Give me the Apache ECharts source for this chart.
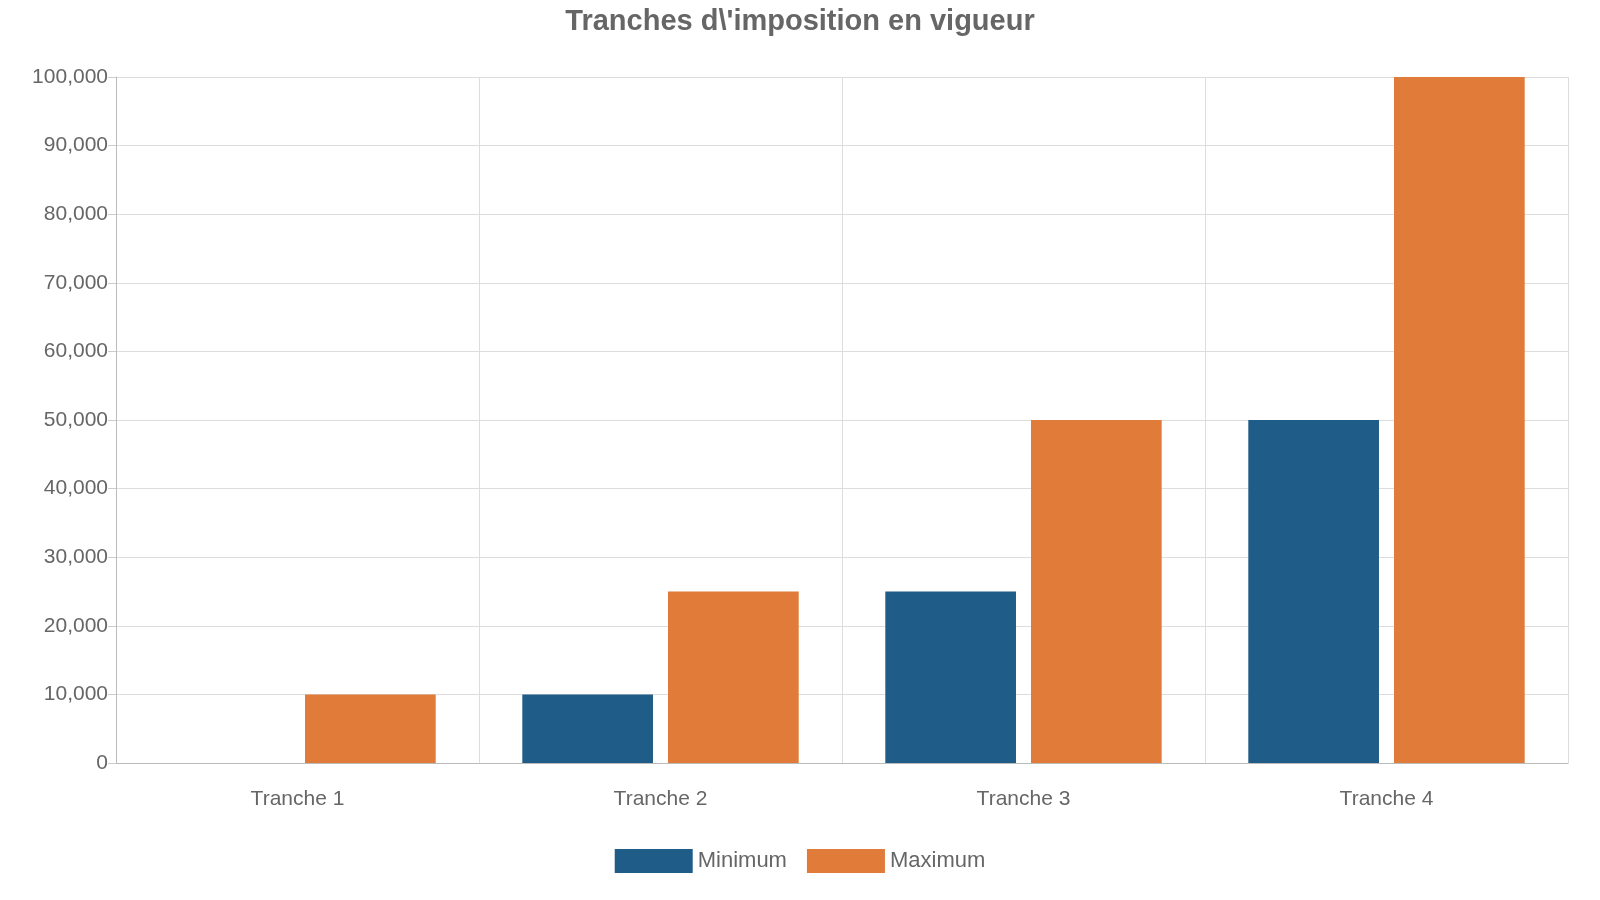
<!DOCTYPE html>
<html><head><meta charset="utf-8">
<script src="https://cdn.jsdelivr.net/npm/echarts@6/dist/echarts.min.js"></script>
<style>html,body{margin:0;padding:0;background:#fff}#c{width:1600px;height:900px}</style>
</head><body><div id="c"></div>
<script>
const categories = ['Tranche 1','Tranche 2','Tranche 3','Tranche 4'];
const minimum = [0, 10000, 25000, 50000];
const maximum = [10000, 25000, 50000, 100000];
const chart = echarts.init(document.getElementById('c'));
const F = 'Liberation Sans, Arial, sans-serif';
chart.setOption({
  animation:false,
  title:{text:"Tranches d\\'imposition en vigueur",left:'center',top:2,textStyle:{fontFamily:F,fontSize:29,fontWeight:'bold',color:'#666'}},
  legend:{bottom:22,itemWidth:78,itemHeight:24,itemGap:20,icon:'rect',textStyle:{fontFamily:F,fontSize:22,color:'#666'},data:['Minimum','Maximum']},
  grid:{left:116,right:32,top:77,bottom:137},
  xAxis:{type:'category',data:categories,
    axisLine:{lineStyle:{color:'#bbb'}},axisTick:{length:14,lineStyle:{color:'#ccc'}},
    splitLine:{show:true,lineStyle:{color:'#ddd'}},
    axisLabel:{fontFamily:F,fontSize:21,color:'#666',margin:26}},
  yAxis:{type:'value',min:0,max:100000,interval:10000,
    axisLine:{show:true,lineStyle:{color:'#bbb'}},axisTick:{show:true,length:8,lineStyle:{color:'#ccc'}},
    splitLine:{lineStyle:{color:'#ddd'}},
    axisLabel:{fontFamily:F,fontSize:21,color:'#666',formatter:v=>v.toLocaleString('en-US')}},
  series:[
    {name:'Minimum',type:'bar',data:minimum,barWidth:'36%',barGap:'11.5%',itemStyle:{color:'#1f5c87'}},
    {name:'Maximum',type:'bar',data:maximum,barWidth:'36%',itemStyle:{color:'#e07b39'}}
  ]
});
</script></body></html>
